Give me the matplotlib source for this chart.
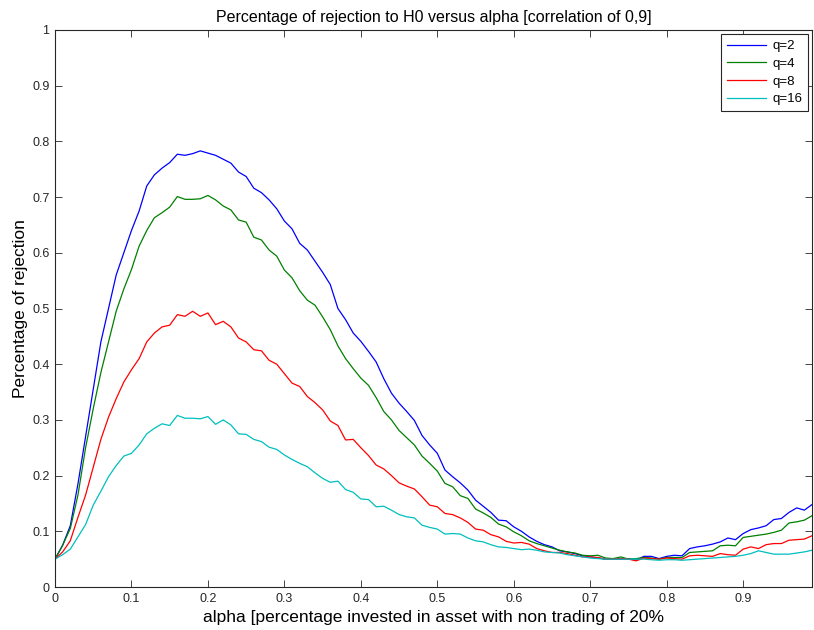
import numpy as np
import matplotlib
matplotlib.use("Agg")
import matplotlib.pyplot as plt

plt.rcParams['font.family'] = ['Liberation Sans', 'DejaVu Sans']

alpha = [i / 100 for i in range(100)]

q2 = [0.05, 0.075, 0.11, 0.185, 0.27, 0.355, 0.44, 0.50, 0.56, 0.60,
      0.64, 0.675, 0.72, 0.74, 0.752, 0.762, 0.777, 0.775, 0.778, 0.783,
      0.779, 0.775, 0.768, 0.761, 0.745, 0.737, 0.716, 0.708, 0.695, 0.679,
      0.657, 0.643, 0.617, 0.605, 0.585, 0.565, 0.543, 0.500, 0.480, 0.456,
      0.441, 0.423, 0.404, 0.374, 0.348, 0.330, 0.315, 0.299, 0.272, 0.255,
      0.240, 0.210, 0.198, 0.187, 0.174, 0.156, 0.145, 0.134, 0.120, 0.119,
      0.108, 0.100, 0.090, 0.082, 0.076, 0.072, 0.065, 0.063, 0.060, 0.056,
      0.054, 0.052, 0.050, 0.050, 0.050, 0.051, 0.048, 0.055, 0.055, 0.051,
      0.055, 0.057, 0.056, 0.069, 0.072, 0.074, 0.077, 0.081, 0.088, 0.085,
      0.096, 0.103, 0.106, 0.110, 0.121, 0.123, 0.134, 0.142, 0.138, 0.148]

q4 = [0.05, 0.075, 0.105, 0.165, 0.25, 0.32, 0.385, 0.44, 0.495, 0.535,
      0.57, 0.612, 0.64, 0.663, 0.672, 0.682, 0.701, 0.696, 0.696, 0.697,
      0.703, 0.695, 0.684, 0.677, 0.659, 0.655, 0.628, 0.623, 0.605, 0.594,
      0.569, 0.555, 0.532, 0.515, 0.506, 0.485, 0.462, 0.433, 0.410, 0.392,
      0.375, 0.362, 0.340, 0.315, 0.300, 0.281, 0.268, 0.255, 0.235, 0.222,
      0.208, 0.186, 0.180, 0.164, 0.159, 0.140, 0.133, 0.125, 0.113, 0.108,
      0.099, 0.092, 0.083, 0.078, 0.074, 0.070, 0.066, 0.063, 0.061, 0.057,
      0.056, 0.057, 0.052, 0.051, 0.054, 0.050, 0.051, 0.053, 0.052, 0.050,
      0.053, 0.053, 0.053, 0.062, 0.063, 0.064, 0.065, 0.074, 0.075, 0.074,
      0.089, 0.091, 0.093, 0.095, 0.098, 0.102, 0.115, 0.117, 0.120, 0.128]

q8 = [0.05, 0.063, 0.083, 0.125, 0.165, 0.215, 0.265, 0.305, 0.338, 0.368,
      0.39, 0.41, 0.44, 0.456, 0.467, 0.47, 0.489, 0.486, 0.495, 0.486,
      0.492, 0.471, 0.477, 0.467, 0.447, 0.440, 0.426, 0.424, 0.407, 0.400,
      0.383, 0.366, 0.360, 0.342, 0.331, 0.318, 0.298, 0.290, 0.264, 0.265,
      0.250, 0.236, 0.219, 0.212, 0.200, 0.187, 0.181, 0.176, 0.162, 0.147,
      0.144, 0.132, 0.130, 0.124, 0.116, 0.104, 0.102, 0.094, 0.090, 0.082,
      0.079, 0.080, 0.077, 0.069, 0.065, 0.062, 0.062, 0.060, 0.057, 0.054,
      0.054, 0.053, 0.050, 0.050, 0.051, 0.050, 0.047, 0.052, 0.051, 0.050,
      0.052, 0.051, 0.050, 0.056, 0.057, 0.056, 0.055, 0.060, 0.058, 0.057,
      0.068, 0.072, 0.069, 0.076, 0.078, 0.078, 0.084, 0.085, 0.086, 0.092]

q16 = [0.05, 0.058, 0.068, 0.09, 0.112, 0.147, 0.172, 0.198, 0.218, 0.235,
       0.24, 0.255, 0.275, 0.285, 0.293, 0.29, 0.308, 0.303, 0.303, 0.302,
       0.306, 0.292, 0.300, 0.291, 0.275, 0.274, 0.265, 0.261, 0.251, 0.247,
       0.237, 0.229, 0.222, 0.216, 0.205, 0.195, 0.188, 0.190, 0.175, 0.170,
       0.158, 0.157, 0.144, 0.145, 0.138, 0.130, 0.126, 0.124, 0.111, 0.107,
       0.104, 0.095, 0.096, 0.095, 0.088, 0.083, 0.081, 0.076, 0.072, 0.071,
       0.069, 0.067, 0.068, 0.066, 0.063, 0.062, 0.061, 0.058, 0.056, 0.054,
       0.052, 0.051, 0.050, 0.050, 0.050, 0.050, 0.050, 0.050, 0.049, 0.048,
       0.049, 0.049, 0.048, 0.049, 0.050, 0.051, 0.052, 0.053, 0.054, 0.055,
       0.057, 0.060, 0.065, 0.062, 0.059, 0.059, 0.059, 0.061, 0.063, 0.066]

series = [q2, q4, q8, q16]
labels = ['q=2', 'q=4', 'q=8', 'q=16']
colors = ['#0000ff', '#008000', '#ff0000', '#00bfbf']

xticks = [0, 0.1, 0.2, 0.3, 0.4, 0.5, 0.6, 0.7, 0.8, 0.9]
xticklabels = ['0', '0.1', '0.2', '0.3', '0.4', '0.5', '0.6', '0.7', '0.8', '0.9']
yticks = [0, 0.1, 0.2, 0.3, 0.4, 0.5, 0.6, 0.7, 0.8, 0.9, 1]
yticklabels = ['0', '0.1', '0.2', '0.3', '0.4', '0.5', '0.6', '0.7', '0.8', '0.9', '1']

fig = plt.figure(figsize=(8.14, 6.3), dpi=100)
ax = fig.add_axes([55 / 814, 43 / 630, 757 / 814, 557 / 630])

for s, lab, c in zip(series, labels, colors):
    ax.plot(alpha, s, color=c, lw=0.9, label=lab)

ax.set_xlim(0, 0.99)
ax.set_ylim(0, 1)
ax.set_xticks(xticks)
ax.set_xticklabels(xticklabels)
ax.set_yticks(yticks)
ax.set_yticklabels(yticklabels)
ax.tick_params(direction='in', top=True, right=True, length=5, width=0.6,
               labelsize=9, colors='#262626', pad=4)
for sp in ax.spines.values():
    sp.set_linewidth(0.8)
    sp.set_color('#262626')

ax.set_title('Percentage of rejection to H0 versus alpha [correlation of 0,9]',
             fontsize=11.5, pad=6)
ax.set_xlabel('alpha [percentage invested in asset with non trading of 20%',
              fontsize=12.5, labelpad=4)
ax.set_ylabel('Percentage of rejection', fontsize=12.5, labelpad=3)

leg = ax.legend(loc='upper right', fontsize=9.5, frameon=True, fancybox=False,
                edgecolor='#262626', framealpha=1, borderaxespad=0.3,
                handlelength=3.0, handletextpad=0.45, labelspacing=0.42,
                borderpad=0.45)
leg.get_frame().set_linewidth(0.8)

fig.savefig('out.png', dpi=100)
